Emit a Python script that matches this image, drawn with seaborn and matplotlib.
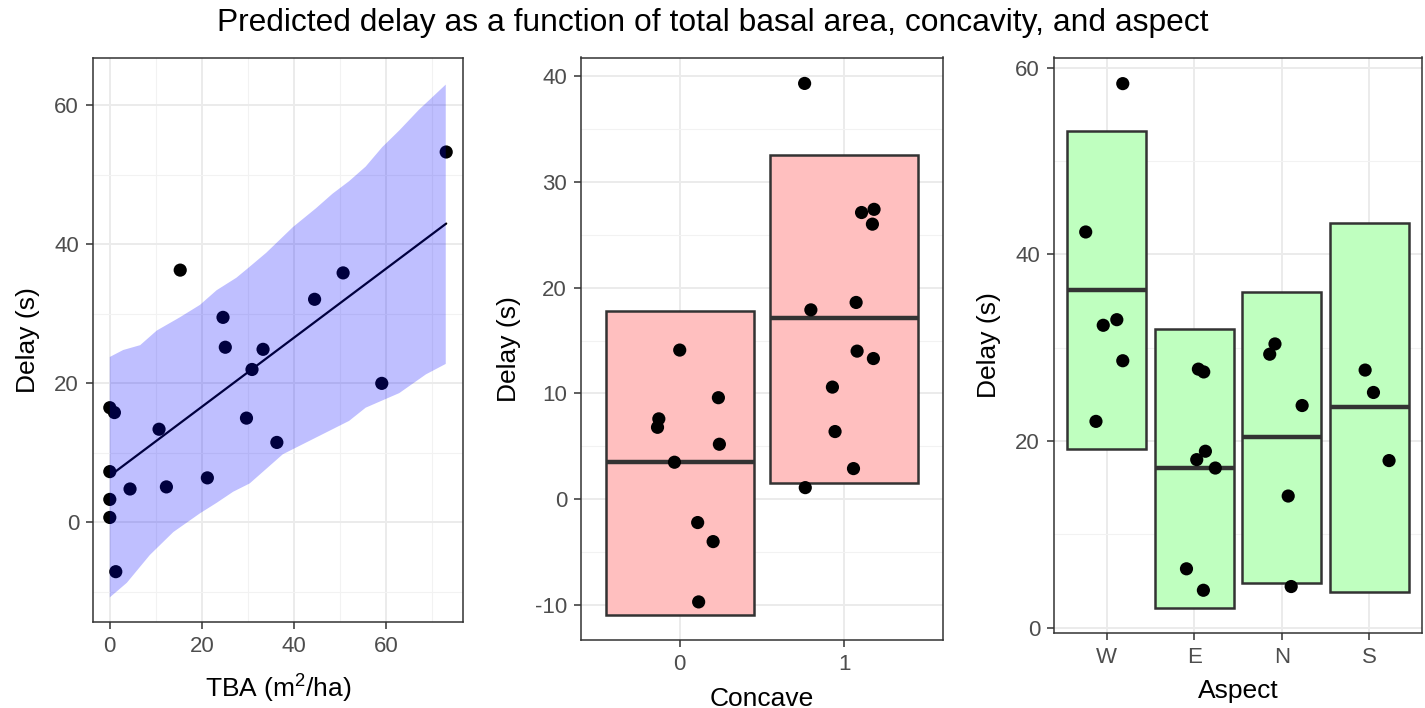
import numpy as np
import pandas as pd
import seaborn as sns
import matplotlib.pyplot as plt
from matplotlib.ticker import MultipleLocator

# panel 1: delay vs total basal area
tba = [0, 1.0, 0, 0, 0, 1.3, 4.4, 10.7, 12.3, 15.3, 21.2, 24.6, 25.1, 29.7,
       30.9, 33.3, 36.3, 44.5, 50.7, 59.1, 73.1]
tba_delay = [16.5, 15.8, 7.3, 3.3, 0.7, -7.1, 4.8, 13.4, 5.1, 36.3, 6.4, 29.5,
             25.2, 15.0, 22.0, 24.9, 11.5, 32.1, 35.9, 20.0, 53.3]
fit_tba = [0, 73.1]
fit_delay = [6.7, 43.0]
upper_tba = [0, 2.9, 6.6, 10.2, 15.2, 19.6, 23.2, 27.5, 29.7, 34.0, 39.8, 44.8,
             48.4, 52.0, 55.6, 59.2, 62.9, 67.2, 73.0]
upper_delay = [23.8, 24.8, 25.5, 27.6, 29.5, 31.3, 33.4, 35.2, 36.4, 38.8, 42.5,
               45.2, 47.3, 49.1, 51.2, 54.0, 56.4, 59.4, 63.0]
lower_tba = [0, 3.7, 8.7, 13.8, 19.6, 23.2, 26.8, 30.4, 34.0, 37.6, 41.2, 44.8,
             48.4, 52.0, 55.6, 62.9, 68.7, 73.0]
lower_delay = [-10.8, -8.7, -4.7, -1.4, 1.3, 2.8, 4.4, 5.6, 7.7, 9.8, 11.0, 12.2,
               13.4, 14.6, 16.5, 18.6, 21.3, 22.8]

# panel 2: concavity
concave_levels = ['0', '1']
concave_group = [0]*9 + [1]*12
concave_jitter = [0.0, -0.127, -0.135, 0.235, 0.241, -0.032, 0.109, 0.203, 0.115,
                  -0.241, 0.105, 0.181, 0.171, -0.203, 0.072, 0.078, 0.177, -0.072,
                  -0.056, 0.056, -0.237]
concave_delay = [14.1, 7.6, 6.8, 9.6, 5.2, 3.5, -2.2, -4.0, -9.7,
                 39.3, 27.1, 27.4, 26.0, 17.9, 18.6, 14.0, 13.3, 10.6, 6.4, 2.9, 1.1]
concave_lo = [-10.9, 1.5]
concave_mid = [3.5, 17.1]
concave_hi = [17.8, 32.5]

# panel 3: aspect
aspect_levels = ['W', 'E', 'N', 'S']
aspect_group = [0]*6 + [1]*7 + [2]*5 + [3]*3
aspect_jitter = [0.185, -0.238, -0.038, 0.117, 0.185, -0.121,
                 0.048, 0.109, 0.128, 0.029, 0.241, -0.088, 0.105,
                 -0.078, -0.138, 0.232, 0.073, 0.107,
                 -0.049, 0.046, 0.224]
aspect_delay = [58.3, 42.4, 32.4, 33.0, 28.6, 22.1,
                27.7, 27.4, 18.9, 18.0, 17.1, 6.3, 4.0,
                30.4, 29.3, 23.8, 14.1, 4.4,
                27.6, 25.2, 17.9]
aspect_lo = [19.1, 2.1, 4.8, 3.8]
aspect_mid = [36.2, 17.1, 20.4, 23.6]
aspect_hi = [53.2, 32.0, 36.0, 43.4]

sns.set_style('white')
plt.rcParams['font.family'] = ['Liberation Sans', 'DejaVu Sans']
plt.rcParams['mathtext.default'] = 'regular'
plt.rcParams['axes.unicode_minus'] = False
plt.rcParams['text.color'] = 'black'
plt.rcParams['axes.labelcolor'] = 'black'

W, H = 1425, 708
fig = plt.figure(figsize=(W/100, H/100), dpi=100)

def make_ax(l, r, t, b):
    return fig.add_axes([l/W, 1 - b/H, (r - l)/W, (b - t)/H])

def style_ax(ax):
    for s in ax.spines.values():
        s.set_color('#333333')
        s.set_linewidth(1.1)
        s.set_visible(True)
    ax.grid(True, which='major', color='#ebebeb', linewidth=1.4)
    ax.grid(True, which='minor', color='#f2f2f2', linewidth=0.8)
    ax.set_axisbelow(True)
    ax.tick_params(which='major', length=5, width=1.1, color='#333333',
                   labelsize=16, labelcolor='#4d4d4d', pad=5, bottom=True, left=True)
    ax.tick_params(which='minor', length=0)
    ax.set_ylabel('Delay (s)', fontsize=19, color='black', labelpad=10)

fig.text(0.5, 0.967, 'Predicted delay as a function of total basal area, concavity, and aspect',
         ha='center', va='center', fontsize=22.9, color='black')

# panel 1
ax1 = make_ax(93, 463, 57.5, 621.7)
style_ax(ax1)
df1 = pd.DataFrame({'TBA': tba, 'Delay': tba_delay})
sns.scatterplot(data=df1, x='TBA', y='Delay', ax=ax1, color='black', s=90,
                edgecolor='none', zorder=2)
sns.lineplot(x=fit_tba, y=fit_delay, ax=ax1, color='black', linewidth=1.6, zorder=2)
band_x = np.concatenate([upper_tba, lower_tba[::-1]])
band_y = np.concatenate([upper_delay, lower_delay[::-1]])
ax1.fill(band_x, band_y, color='blue', alpha=0.25, linewidth=0, zorder=3)
ax1.set_xlim(-3.65, 76.75)
ax1.set_ylim(-14.3, 66.9)
ax1.xaxis.set_major_locator(MultipleLocator(20))
ax1.xaxis.set_minor_locator(MultipleLocator(10))
ax1.yaxis.set_major_locator(MultipleLocator(20))
ax1.yaxis.set_minor_locator(MultipleLocator(10))
ax1.set_xlabel('TBA (m$^2$/ha)', fontsize=19, labelpad=12)

# crossbar panels
def crossbars(ax, lo, mid, hi, fill):
    pos = np.arange(len(lo))
    ax.bar(pos, np.array(hi) - np.array(lo), bottom=lo, width=0.9, color=fill,
           edgecolor='#333333', linewidth=1.8, zorder=1)
    ax.hlines(mid, pos - 0.45, pos + 0.45, color='#333333', linewidth=3.2, zorder=1.5)

# panel 2
ax2 = make_ax(581, 943, 57.5, 640)
style_ax(ax2)
crossbars(ax2, concave_lo, concave_mid, concave_hi, '#ffbfbf')
df2 = pd.DataFrame({'x': np.array(concave_group) + np.array(concave_jitter),
                    'Delay': concave_delay})
sns.scatterplot(data=df2, x='x', y='Delay', ax=ax2, color='black', s=90,
                edgecolor='none', zorder=3)
ax2.set_xlim(-0.6, 1.6)
ax2.set_ylim(-13.3, 41.75)
ax2.set_xticks(range(len(concave_levels)))
ax2.set_xticklabels(concave_levels)
ax2.yaxis.set_major_locator(MultipleLocator(10))
ax2.yaxis.set_minor_locator(MultipleLocator(5))
ax2.set_xlabel('Concave', fontsize=19, labelpad=8.5)

# panel 3
ax3 = make_ax(1054, 1422, 57.5, 633)
style_ax(ax3)
crossbars(ax3, aspect_lo, aspect_mid, aspect_hi, '#bfffbf')
df3 = pd.DataFrame({'x': np.array(aspect_group) + np.array(aspect_jitter),
                    'Delay': aspect_delay})
sns.scatterplot(data=df3, x='x', y='Delay', ax=ax3, color='black', s=90,
                edgecolor='none', zorder=3)
ax3.set_xlim(-0.6, 3.6)
ax3.set_ylim(-0.58, 61.1)
ax3.set_xticks(range(len(aspect_levels)))
ax3.set_xticklabels(aspect_levels)
ax3.yaxis.set_major_locator(MultipleLocator(20))
ax3.yaxis.set_minor_locator(MultipleLocator(10))
ax3.set_xlabel('Aspect', fontsize=19, labelpad=8)

fig.savefig('out.png', dpi=100)
